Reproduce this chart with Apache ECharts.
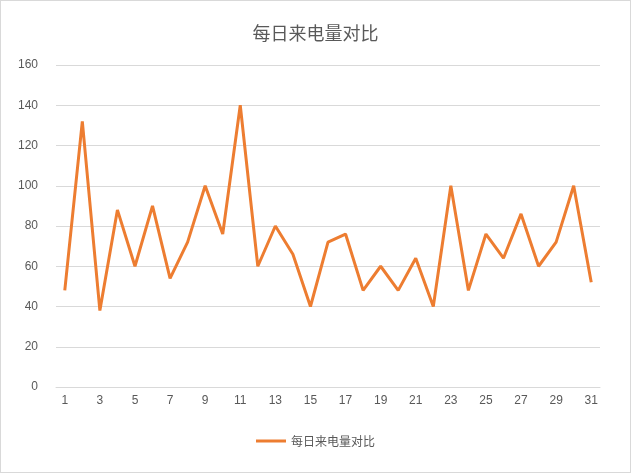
<!DOCTYPE html>
<html><head><meta charset="utf-8">
<script src="https://cdn.jsdelivr.net/npm/echarts@6/dist/echarts.min.js"></script>
<style>html,body{margin:0;padding:0;background:#fff}#c{width:631px;height:473px;box-sizing:border-box;border:1px solid #d9d9d9}</style>
</head><body><div id="c"></div>
<script>
var categories = [];
for (var i = 1; i <= 31; i++) categories.push(String(i));
var values = [48,132,38,88,60,90,54,72,100,76,140,60,80,66,40,72,76,48,60,48,64,40,100,48,76,64,86,60,72,100,52];
var seriesName = '每日来电量对比';
var chart = echarts.init(document.getElementById('c'));
chart.setOption({
  animation: false,
  title: {text: seriesName, left: 'center', top: 18, textStyle: {fontSize: 18, fontWeight: 'normal', color: '#595959', fontFamily: 'Noto Sans CJK SC'}},
  legend: {bottom: 20, itemWidth: 30, icon: 'rect', itemHeight: 3, textStyle: {color: '#595959', fontSize: 12, fontFamily: 'Noto Sans CJK SC'}},
  grid: {left: 55, right: 30, top: 64, bottom: 85},
  xAxis: {type: 'category', data: categories,
    axisLine: {lineStyle: {color: '#d9d9d9'}}, axisTick: {show: false},
    axisLabel: {interval: 1, color: '#595959', fontSize: 12}},
  yAxis: {type: 'value', min: 0, max: 160, interval: 20,
    axisLine: {show: false}, axisTick: {show: false},
    splitLine: {lineStyle: {color: '#d9d9d9'}},
    axisLabel: {color: '#595959', fontSize: 12, margin: 18}},
  series: [{name: seriesName, type: 'line', data: values, symbol: 'none',
    lineStyle: {color: '#ed7d31', width: 3}, itemStyle: {color: '#ed7d31'}}]
});
</script></body></html>
